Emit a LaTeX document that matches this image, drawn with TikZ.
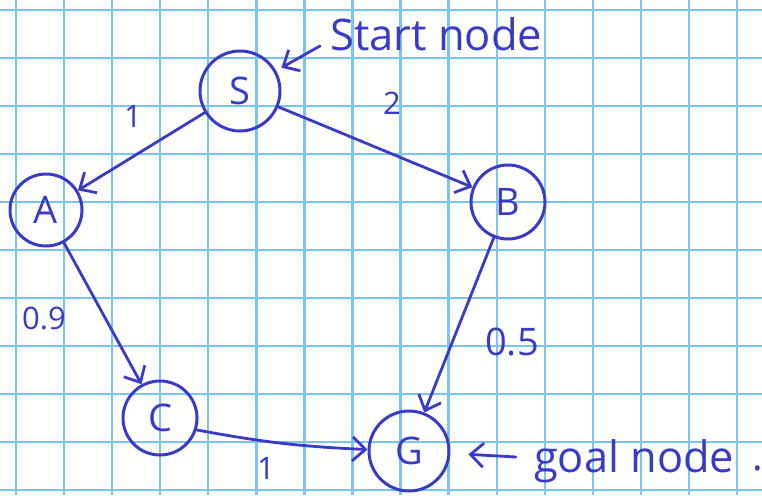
\documentclass[tikz,border=0pt]{standalone}
\usepackage{fontspec}
\setmainfont{Open Sans}
\usetikzlibrary{arrows.meta}
\definecolor{ink}{RGB}{58,58,200}
\definecolor{gridblue}{RGB}{125,195,235}
\begin{document}
\begin{tikzpicture}[x=1pt,y=-1pt,
  gridline/.style={draw=gridblue, line width=2.3pt},
  nd/.style={circle, draw=ink, line width=3pt, text=ink, inner sep=0pt,
    font=\fontsize{38}{38}\selectfont},
  edge/.style={draw=ink, line width=2.8pt, line cap=round,
    -{Straight Barb[length=13pt,width=24pt,line width=2.8pt]}},
  lbl/.style={text=ink, inner sep=0pt, font=\fontsize{31}{31}\selectfont},
  note/.style={text=ink, inner sep=0pt, font=\fontsize{40}{40}\selectfont}]
\useasboundingbox (0,0) rectangle (762,495);
\fill[white] (0,0) rectangle (762,495);
\foreach \i in {0,...,15} \draw[gridline] ({16+48.07*\i},0) -- ({16+48.07*\i},495);
\foreach \j in {0,...,10} \draw[gridline] (0,{10+48*\j}) -- (762,{10+48*\j});

\node[nd, minimum size=80pt] (S) at (240,91) {S};
\node[nd, minimum size=72pt] (A) at (46,210) {A};
\node[nd, minimum size=74pt] (B) at (508,202) {B};
\node[nd, minimum size=74pt] (C) at (160,418) {C};
\node[nd, minimum size=80pt] (G) at (409,451) {G};

\draw[edge] (S) -- (A);
\draw[edge] (S) -- (B);
\draw[edge] (A) -- (C);
\draw[edge] (B) -- (G);
\draw[edge] (C.-18) to[bend right=4] (G.178);

\node[lbl] (l1) at (133,116) {1};
\node[lbl] (l2) at (392,103) {2};
\node[lbl] (l09) at (44,318) {0.9};
\node[lbl, font=\fontsize{38}{38}\selectfont] (l05) at (512,342) {0.5};
\node[lbl] (l3) at (266,468) {1};

\node[note, anchor=west] (start) at (330,34) {\resizebox{212pt}{!}{Start node}};
\coordinate (sa) at (320,46);
\draw[edge, shorten >=6pt] (sa) -- (S);

\node[note, anchor=west] (goal) at (534,461) {\resizebox{200pt}{!}{goal node}};
\node[note, anchor=base] (dot) at (758,470) {.};
\coordinate (ga) at (516,457);
\draw[edge, shorten >=18pt] (ga) -- (G);
\end{tikzpicture}
\end{document}
